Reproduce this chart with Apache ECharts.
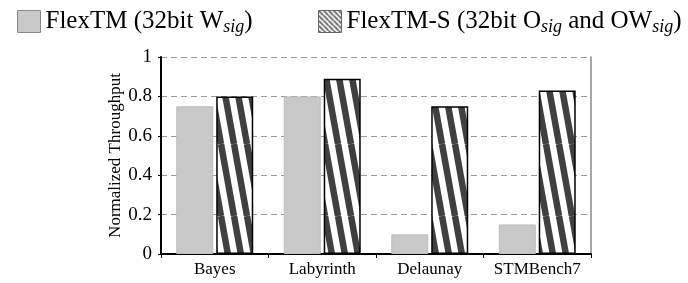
<!DOCTYPE html>
<html>
<head>
<meta charset="utf-8">
<script src="https://cdn.jsdelivr.net/npm/echarts@6/dist/echarts.min.js"></script>
<style>
  html, body { margin: 0; padding: 0; background: #fff; }
  #chart { width: 688px; height: 283px; }
</style>
</head>
<body>
<div id="chart"></div>
<script>
// 数据
const categories = ["Bayes", "Labyrinth", "Delaunay", "STMBench7"];
const flexTM = [0.75, 0.8, 0.1, 0.15];
const flexTMS = [0.8, 0.89, 0.75, 0.83];
const yTicks = [0, 0.2, 0.4, 0.6, 0.8, 1];

// 斜条纹（柱子用，较陡）
function stripeCanvas(w, h, lineW, color) {
  const c = document.createElement("canvas");
  c.width = w;
  c.height = h;
  const ctx = c.getContext("2d");
  ctx.fillStyle = "#fff";
  ctx.fillRect(0, 0, w, h);
  ctx.strokeStyle = color;
  ctx.lineWidth = lineW;
  for (let k = -1; k <= 1; k++) {
    ctx.beginPath();
    ctx.moveTo(k * w, 0);
    ctx.lineTo(k * w + w, h);
    ctx.stroke();
  }
  return c;
}

const barPattern = { image: stripeCanvas(13, 72, 6.5, "#404040"), repeat: "repeat" };
const legendPattern = { image: stripeCanvas(5, 5, 1.5, "#404040"), repeat: "repeat" };

const myChart = echarts.init(document.getElementById("chart"));
const serif = "Liberation Serif";

const legendText = {
  fontFamily: serif,
  fontSize: 25,
  color: "#000",
  rich: {
    n: { fontFamily: serif, fontSize: 25, color: "#000" },
    sub: { fontFamily: serif, fontSize: 18, fontStyle: "italic", color: "#000", padding: [11, 0, 0, 0] }
  }
};

function legendLabel(name) {
  if (name === "a") return "{n|FlexTM (32bit W}{sub|sig}{n|)}";
  return "{n|FlexTM-S (32bit O}{sub|sig}{n| and OW}{sub|sig}{n|)}";
}

const option = {
  backgroundColor: "#fff",
  animation: false,
  legend: [
    {
      left: 12,
      top: 4,
      itemWidth: 23,
      itemHeight: 22,
      icon: "rect",
      textStyle: legendText,
      formatter: legendLabel,
      data: [{ name: "a", itemStyle: { color: "#c9c9c9", borderColor: "#888", borderWidth: 1 } }]
    },
    {
      left: 313,
      top: 4,
      itemWidth: 23,
      itemHeight: 22,
      icon: "rect",
      textStyle: legendText,
      formatter: legendLabel,
      data: [{ name: "b", itemStyle: { color: legendPattern, borderColor: "#666", borderWidth: 1 } }]
    }
  ],
  grid: { left: 161, right: 97, top: 57, bottom: 29 },
  xAxis: {
    type: "category",
    data: categories,
    axisLine: { lineStyle: { color: "#000", width: 2 } },
    axisTick: { show: true, length: 4, lineStyle: { color: "#000" } },
    axisLabel: { interval: 0, fontFamily: serif, fontSize: 17, color: "#000", margin: 7 }
  },
  yAxis: [
    {
      type: "value",
      min: 0,
      max: 1,
      interval: 0.2,
      name: "Normalized Throughput",
      nameLocation: "middle",
      nameGap: 37,
      nameMoveOverlap: false,
      nameTextStyle: { fontFamily: serif, fontSize: 17, color: "#000" },
      axisLine: { show: true, lineStyle: { color: "#000", width: 2 } },
      axisTick: { show: true, length: 3, lineStyle: { color: "#000" } },
      axisLabel: {
        fontFamily: serif,
        fontSize: 19,
        color: "#000",
        margin: 9,
        formatter: function (v) {
          const r = Math.round(v * 10) / 10;
          return yTicks.indexOf(r) >= 0 ? String(r) : "";
        }
      },
      splitLine: { lineStyle: { color: "#999", type: [6, 4], width: 1 } }
    },
    {
      type: "value",
      min: 0,
      max: 1,
      interval: 0.2,
      position: "right",
      axisLine: { show: true, lineStyle: { color: "#888", width: 1.5 } },
      axisTick: { show: false },
      axisLabel: { show: false },
      splitLine: { show: false }
    }
  ],
  series: [
    {
      name: "a",
      type: "bar",
      data: flexTM,
      barWidth: 37,
      barGap: "8%",
      itemStyle: { color: "#c9c9c9", borderColor: "#bdbdbd", borderWidth: 1 }
    },
    {
      name: "b",
      type: "bar",
      data: flexTMS,
      barWidth: 37,
      itemStyle: { color: barPattern, borderColor: "#000", borderWidth: 1.5 }
    }
  ]
};

myChart.setOption(option);
</script>
</body>
</html>
